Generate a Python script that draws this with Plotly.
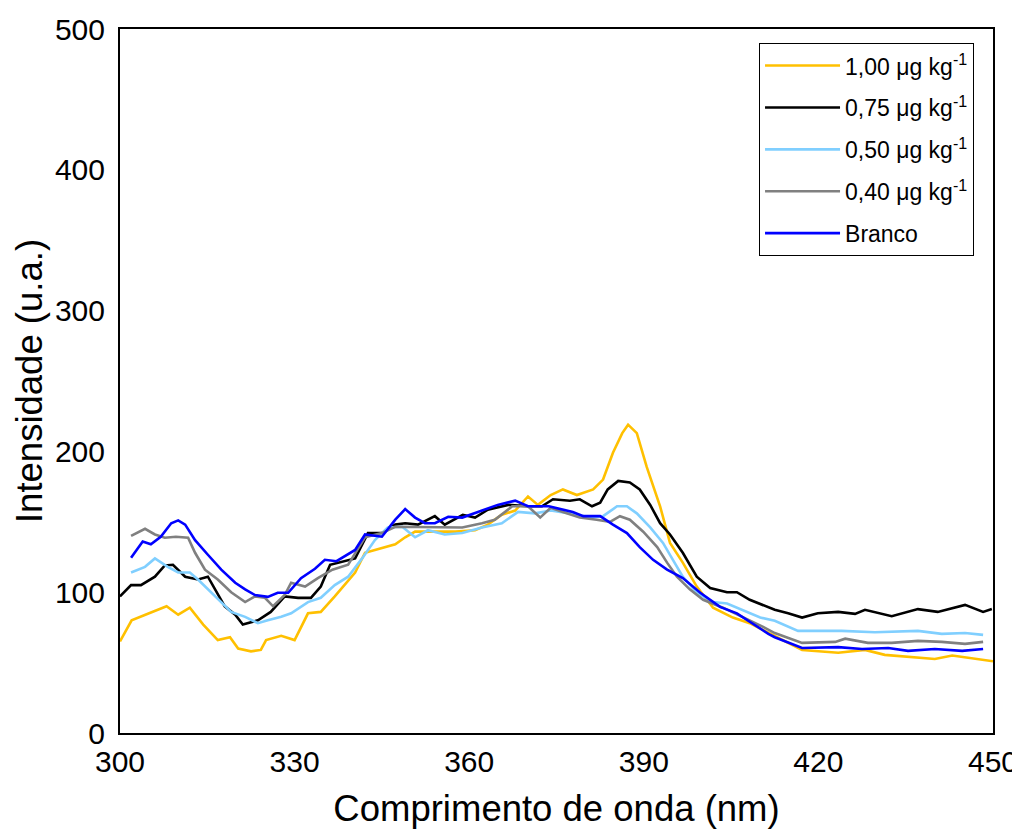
import plotly.graph_objects as go

# ---- data ----
wl_100 = [300, 302, 305, 308, 310, 312, 314.3, 316.8, 318.9, 320.3, 322.5, 324.2, 325.1, 327.7, 330, 332.3, 334.5,
          336.9, 340.4, 342.1, 343.8, 347.3, 349, 350.7, 354.1, 357.6, 361, 363.2, 365.6, 367.9, 370.1, 371.8, 374,
          376.1, 378.5, 381.3, 383, 384.7, 386.3, 387.3, 388.8, 390.5, 392.8, 394.5, 396.7, 399.1, 401.9, 405.3,
          408.2, 412, 417.2, 423.4, 428, 431.4, 436.6, 440, 443, 446.9, 450]
int_100 = [65, 80, 85, 90, 84, 89, 77, 66, 68, 60, 58, 59, 66, 69, 66, 85, 86,
           97, 114, 128, 130, 134, 139, 143, 143, 143, 144, 148, 155, 158, 168, 162, 169,
           173, 169, 173, 180, 199, 213, 219, 213, 189, 161, 135, 121, 104, 89, 82,
           78, 70, 59, 57, 59, 55.5, 54, 52.6, 55, 53, 51]

wl_075 = [300, 301.9, 303.6, 306, 307.7, 309.1, 311.2, 313.4, 315.1, 316.3, 318, 319.8, 321.1, 323.7, 325.9, 328.3,
          330.6, 332.8, 334.5, 336.1, 337.5, 340.4, 342.6, 345, 347.3, 349, 351.2, 354.1, 355.8, 358.9, 361, 363.2,
          366.7, 370.1, 372.5, 374.4, 377.3, 379, 381.1, 382.5, 383.8, 385.6, 387.6, 389.3, 391.1, 392.8, 394.5,
          396.7, 399.1, 401.4, 404.3, 406, 408.2, 411.2, 412.5, 414.8, 417.2, 419.9, 423.4, 426.3, 428, 432.6,
          437.1, 440.5, 445.2, 448.3, 449.8]
int_075 = [97, 105, 105, 111, 119, 119.5, 111, 109, 111, 102, 90, 84, 77, 80, 86, 97,
           96, 96, 104, 119.5, 121, 124, 142, 142, 148, 149, 148, 154, 148, 155, 153, 158.6,
           162, 161, 161, 166, 165, 166, 161, 163.6, 173, 179, 178, 173, 162, 149, 141,
           128, 111, 103, 100, 100, 94.6, 90, 87.5, 85, 82, 85, 86, 84.6, 87.5, 83,
           88, 86, 91, 86, 88]

wl_050 = [301.9, 304.3, 306, 308.2, 310, 312, 313.4, 315.1, 317.4, 319.1, 321.5, 323.7, 325.4, 327.7, 329.4, 332.3,
          334.5, 336.9, 339.2, 341.6, 343.8, 346, 348.5, 350.7, 352.9, 355.8, 358.8, 362.2, 365.6, 368.4, 371.3,
          374, 377.3, 380.8, 383, 385.4, 387.1, 388.8, 391.1, 393.3, 395, 396.7, 399.1, 401.9, 404.3, 407, 410,
          412.5, 416.5, 424, 429.7, 437.1, 441.2, 445.2, 448.3]
int_050 = [114, 118, 124, 118, 114, 114, 109, 102, 93, 86, 82.5, 78, 80, 82.5, 85, 93,
           96, 105, 111, 124, 137, 146, 146.5, 139, 144, 141, 142, 146, 149, 157, 156,
           158, 156, 153, 154, 161, 161, 156, 146, 135, 123, 111, 99.6, 93, 92, 87.5, 82,
           79.7, 72.5, 72.5, 71.6, 72.5, 70.4, 71, 69.7]

wl_040 = [301.9, 304.3, 306, 307.7, 309.6, 311.7, 312.9, 314.6, 316.8, 319.1, 321.5, 323.2, 324.9, 326.3, 328.3,
          329.4, 331.8, 334, 336.5, 339.2, 342.1, 345, 347.3, 350.2, 354.1, 358.8, 362.2, 364.4, 367.4, 370.1,
          372.2, 374, 376.1, 379, 381.9, 384.2, 385.9, 387.6, 389.9, 392.3, 394, 395.7, 397.9, 400.2, 403.6, 407,
          410.5, 412.5, 417.2, 422.9, 424.6, 428.5, 432.6, 437.1, 441.2, 445.2, 448.3]
int_040 = [140, 145, 141, 138.7, 139.4, 138.7, 128, 116, 109, 100, 93, 97, 96, 90, 98,
           106.7, 104, 110, 116, 119.5, 139, 142, 146.5, 146.5, 146.5, 146, 149, 151.5, 161, 161,
           153, 160, 157, 153, 151.5, 150, 154, 151.5, 143, 132, 121, 111, 102, 94.6, 89, 82.5,
           75.4, 71, 64, 64.7, 67, 64, 64, 65.4, 64.7, 63.3, 64.7]

wl_branco = [301.9, 303.9, 305.3, 307, 308.8, 310, 311.2, 312.9, 315.1, 317.4, 319.8, 321.5, 323.2, 325.4, 327.1,
             328.9, 331.1, 333.5, 335.2, 337.2, 340.4, 342.1, 345, 347.3, 349, 350.7, 352.4, 354.1, 356.4, 358.8,
             361.5, 364.9, 367.9, 370.1, 373.7, 377.8, 379.6, 382.5, 384.7, 387.1, 389.3, 391.6, 394, 396.7, 399.7,
             403.1, 406, 409.5, 411.4, 412.5, 417.2, 423.4, 427.5, 432, 435.4, 440, 444.7, 448.3]
int_branco = [124.5, 136, 134, 139.4, 149, 151, 148, 137, 126.6, 116, 106.7, 102, 98, 96.7, 99.6,
              99.6, 110, 116.6, 123, 122, 130, 141, 139.4, 151.5, 159, 153, 149, 149, 153.6, 153,
              157, 162, 165, 161, 161, 157, 154, 154, 148, 142, 132, 123, 116, 110, 99.6,
              89.6, 85, 75.4, 70.4, 68, 60.4, 61, 59.7, 60.4, 58.3, 59.7, 58.3, 59.7]

names = ["1,00 μg kg<sup>-1</sup>", "0,75 μg kg<sup>-1</sup>", "0,50 μg kg<sup>-1</sup>",
         "0,40 μg kg<sup>-1</sup>", "Branco"]
colors = ["#FFC000", "#000000", "#80CFFF", "#808080", "#0000FF"]
series = [(wl_100, int_100), (wl_075, int_075), (wl_050, int_050), (wl_040, int_040), (wl_branco, int_branco)]

x_ticks = [300, 330, 360, 390, 420, 450]
y_ticks = [0, 100, 200, 300, 400, 500]

FONT = "Liberation Sans, Arial, sans-serif"

fig = go.Figure()
for i, ((x, y), n, c) in enumerate(zip(series, names, colors)):
    fig.add_trace(go.Scatter(x=x, y=y, mode="lines", name=n, legendgroup=f"g{i}",
                             line=dict(color=c, width=2.6)))

fig.update_layout(
    width=1012, height=826,
    margin=dict(l=112, r=27, t=21, b=101),
    paper_bgcolor="white", plot_bgcolor="white",
    font=dict(family=FONT, color="black"),
    showlegend=True,
    legend=dict(x=0.732, y=0.980, xanchor="left", yanchor="top",
                bordercolor="black", borderwidth=1, bgcolor="white",
                font=dict(size=23, family=FONT), itemwidth=75,
                tracegroupgap=9),
)
fig.update_xaxes(range=[300, 450], tickvals=x_ticks, ticks="", showgrid=False, zeroline=False,
                 showline=True, linecolor="black", linewidth=2, mirror=True, automargin=False,
                 tickfont=dict(size=30, family=FONT), ticklabelstandoff=1,
                 title=dict(text="Comprimento de onda (nm)", font=dict(size=36.5, family=FONT), standoff=18))
fig.update_yaxes(range=[0, 500], tickvals=y_ticks, ticks="", showgrid=False, zeroline=False,
                 showline=True, linecolor="black", linewidth=2, mirror=True, automargin=False,
                 tickfont=dict(size=30, family=FONT), ticklabelstandoff=7,
                 title=dict(text="Intensidade (u.a.)", font=dict(size=36.5, family=FONT), standoff=1))

fig.write_html("out.html")
